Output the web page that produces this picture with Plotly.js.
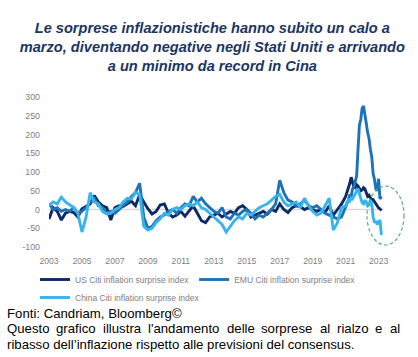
<!DOCTYPE html>
<html>
<head>
<meta charset="utf-8">
<script src="https://cdn.plot.ly/plotly-3.0.1.min.js"></script>
<style>
html, body { margin: 0; padding: 0; background: #ffffff; }
#chart { width: 418px; height: 357px; }
</style>
</head>
<body>
<div id="chart"></div>
<script>
// ---------- DATA ----------
// Dates: quarterly 2003 Q1 .. 2020 Q4, then monthly Jan 2021 .. Mar 2023 (decimal years)
const quarterlyCount = 72;
const monthlyCount = 27;
const dates = [];
for (let i = 0; i < quarterlyCount; i++) dates.push(2003 + i * 0.25);
for (let m = 0; m < monthlyCount; m++) dates.push(2021 + m / 12);

const seriesNames = [
  "US Citi inflation surprise index",
  "EMU Citi inflation surprise index",
  "China Citi inflation surprise index"
];

// US Citi inflation surprise index
const usValues = [
  -25, 5, -5, -28,   -10, -5, -8, -20,   2, 8, 15, 37,   20, 10, 5, -28,
  5, 10, 8, 15,      22, 10, 40, 20,     2, -12, -5, 12, 15, -10, -20, -15,
  -5, -18, -5, 10,   -10, -30, -35, -20, -15, -10, -20, -12, -5, -10, 5, 10,
  0, -20, -15, -10,  -5, -12, 0, -5,     15, 0, -8, 5,   10, 8, 0, 5,
  0, -5, 0, -8,      10, -15, 0, 15,
  35, 45, 60, 70, 86, 75, 60, 58, 66, 62, 55, 50,
  52, 58, 55, 45, 35, 38, 30, 25, 26, 20, 15, 8,
  4, 2, -3
];

// EMU Citi inflation surprise index
const emuValues = [
  15, 0, 5, -5,      0, -5, 5, -10,      -5, 5, 20, 30,  10, 5, -10, -5,
  -10, 0, 10, 20,    35, 45, 70, -20,    -50, -45, -30, -20, -15, -5, 0, -10,
  5, 15, 10, 35,     20, 30, 15, 5,      -5, -10, 5, -20, -25, -10, -15, -5,
  0, -10, -25, -15,  -20, -10, 0, 15,    78, 45, 25, 20, 10, 15, 25, 10,
  5, 10, 0, -10,     -15, -20, -25, -20,
  5, 15, 25, 40, 35, 55, 60, 75, 90, 160, 225, 240,
  270, 276, 245, 230, 205, 190, 160, 140, 95, 80, 55, 50,
  82, 28, 35
];

// China Citi inflation surprise index
const chinaValues = [
  10, 20, 15, 33,    20, 12, 5, -10,     -60, -20, 45, 20, 15, -5, -12, -10,
  0, 5, 20, 30,      28, 45, 40, -45,    -55, -50, -35, -25, -10, -15, 0, 5,
  0, 10, 15, 10,     20, 5, 0, -10,      -20, -30, -40, -60, -45, -30, -20, -25,
  -10, -15, -5, 5,   10, 15, 25, 35,     40, 20, 10, 15, 20, 5, 30, 10,
  -5, -15, -10, 10,  30, -55, -35, 5,
  10, 20, 25, 22, 30, 28, 35, 40, 50, 56, 42, 30,
  18, 15, 25, 20, 10, 12, 25, 15, -20, -35, -30, -40,
  -35, -28, -68
];

const xTickValues = [2003, 2005, 2007, 2009, 2011, 2013, 2015, 2017, 2019, 2021, 2023];
const xTickLabels = ["2003", "2005", "2007", "2009", "2011", "2013", "2015", "2017", "2019", "2021", "2023"];
const yTickValues = [-100, -50, 0, 50, 100, 150, 200, 250, 300];
const yTickLabels = ["-100", "-50", "0", "50", "100", "150", "200", "250", "300"];

const titleLines = [
  "Le sorprese inflazionistiche hanno subito un calo a",
  "marzo, diventando negative negli Stati Uniti e arrivando",
  "a un minimo da record in Cina"
];
const sourceText = "Fonti: Candriam, Bloomberg©";
const noteLine1 = "Questo grafico illustra l'andamento delle sorprese al rialzo e al";
const noteLine2 = "ribasso dell’inflazione rispetto alle previsioni del consensus.";

// ---------- STYLE / LAYOUT ----------
const W = 418, H = 357;
const M = { l: 49, r: 13, t: 97, b: 110 };
const plotW = W - M.l - M.r;
const plotH = H - M.t - M.b;
const colors = ["#0E2A66", "#1F72B8", "#37B5EA"];
const valueSets = [usValues, emuValues, chinaValues];
const legendIds = ["legend", "legend", "legend2"];

const traces = valueSets.map((vals, k) => ({
  type: "scatter",
  mode: "lines",
  x: dates,
  y: vals,
  name: seriesNames[k],
  legend: legendIds[k],
  line: { color: colors[k], width: 2.9 },
  hoverinfo: "skip"
}));

const pxToPaperX = px => (px - M.l) / plotW;
const pxToPaperY = py => (H - M.b - py) / plotH;

const textFont = "Liberation Sans, Arial, sans-serif";
const noteSize = 13.2;

// justified note line: measure words and spread them between left and right edge
function justifiedAnnotations(text, leftPx, rightPx, centerYPx) {
  const words = text.split(" ");
  const cv = document.createElement("canvas");
  const ctx = cv.getContext("2d");
  ctx.font = noteSize + "px 'Liberation Sans'";
  const widths = words.map(w => ctx.measureText(w).width);
  const total = widths.reduce((a, b) => a + b, 0);
  const gap = (rightPx - leftPx - total) / (words.length - 1);
  let x = leftPx;
  return words.map((w, i) => {
    const a = {
      xref: "paper", yref: "paper",
      x: pxToPaperX(x), y: pxToPaperY(centerYPx),
      xanchor: "left", yanchor: "middle",
      text: w, showarrow: false,
      font: { family: textFont, size: noteSize, color: "#000000" }
    };
    x += widths[i] + gap;
    return a;
  });
}

const annotations = [
  {
    xref: "paper", yref: "paper",
    x: pxToPaperX(5), y: pxToPaperY(313),
    xanchor: "left", yanchor: "middle",
    text: sourceText, showarrow: false,
    font: { family: textFont, size: noteSize, color: "#000000" }
  },
  ...justifiedAnnotations(noteLine1, 5, 398, 328),
  {
    xref: "paper", yref: "paper",
    x: pxToPaperX(5), y: pxToPaperY(344),
    xanchor: "left", yanchor: "middle",
    text: noteLine2, showarrow: false,
    font: { family: textFont, size: noteSize, color: "#000000" }
  }
];

const legendFont = { family: textFont, size: 8.5, color: "#7F7F7F" };

const layout = {
  width: W, height: H,
  margin: { l: M.l, r: M.r, t: M.t, b: M.b, pad: 0, autoexpand: false },
  paper_bgcolor: "#ffffff",
  plot_bgcolor: "#ffffff",
  title: {
    text: titleLines.join("<br>"),
    xref: "container", yref: "container",
    x: 0.508, xanchor: "center",
    y: 1 - 33 / H, yanchor: "middle",
    font: { family: textFont, size: 14.6, color: "#1B3564", weight: "bold", style: "italic" }
  },
  xaxis: {
    range: [2003, 2024.6],
    tickmode: "array", tickvals: xTickValues, ticktext: xTickLabels,
    showgrid: false, zeroline: false, showline: false, ticks: "",
    ticklabelstandoff: 7,
    tickfont: { family: textFont, size: 8.6, color: "#7F7F7F" },
    fixedrange: true
  },
  yaxis: {
    range: [-100, 300],
    tickmode: "array", tickvals: yTickValues, ticktext: yTickLabels,
    showgrid: false, zeroline: false, showline: false, ticks: "",
    ticklabelstandoff: 8,
    tickfont: { family: textFont, size: 8.8, color: "#7F7F7F" },
    fixedrange: true
  },
  showlegend: true,
  legend: {
    orientation: "h",
    x: pxToPaperX(35), xanchor: "left",
    y: pxToPaperY(265), yanchor: "top",
    tracegroupgap: 0,
    bgcolor: "rgba(0,0,0,0)",
    font: legendFont
  },
  legend2: {
    orientation: "h",
    x: pxToPaperX(35), xanchor: "left",
    y: pxToPaperY(283), yanchor: "top",
    tracegroupgap: 0,
    bgcolor: "rgba(0,0,0,0)",
    font: legendFont
  },
  shapes: [
    {
      type: "line", xref: "x", yref: "y",
      x0: 2003, x1: 2023.3, y0: 0, y1: 0,
      line: { color: "#D9D9D9", width: 1.5 },
      layer: "below"
    },
    {
      type: "circle", xref: "paper", yref: "paper",
      x0: pxToPaperX(367), x1: pxToPaperX(404),
      y0: pxToPaperY(245), y1: pxToPaperY(186),
      line: { color: "#4DB862", width: 1.2, dash: "3.5px,2.5px" },
      layer: "above"
    }
  ],
  annotations: annotations
};

Plotly.newPlot("chart", traces, layout, { displayModeBar: false, staticPlot: true });
</script>
</body>
</html>
